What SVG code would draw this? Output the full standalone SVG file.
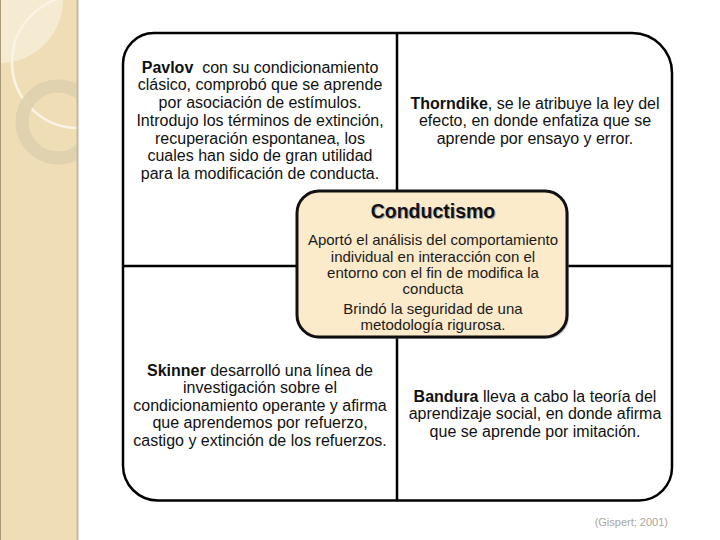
<svg xmlns="http://www.w3.org/2000/svg" width="720" height="540" viewBox="0 0 720 540">
<defs>
<style>
.t{font-family:"Liberation Sans",Arial,sans-serif;font-size:16px;fill:#111;text-anchor:middle;white-space:pre}
.c{font-family:"Liberation Sans",Arial,sans-serif;font-size:15px;fill:#1a1a1a;text-anchor:middle}
.b{font-weight:bold}
.frame{fill:none;stroke:#000;stroke-width:2.5}
.conn{stroke:#000;stroke-width:2.5;fill:none}
</style>
<clipPath id="strip"><rect x="0" y="0" width="78" height="540"/></clipPath>
</defs>
<rect width="720" height="540" fill="#fff"/>
<g id="decoration">
<rect x="0" y="0" width="78" height="540" fill="#EFDDB6"/>
<g clip-path="url(#strip)">
<circle cx="0" cy="0" r="63" fill="#F5EAD2"/>
<circle cx="78" cy="62" r="66" fill="none" stroke="#FBF4E4" stroke-width="2.5"/>
<circle cx="58" cy="122" r="36" fill="none" stroke="#DDCFAE" stroke-width="13" opacity="0.85"/>
</g>
<rect x="76.5" y="0" width="2" height="540" fill="#C9B896"/>
<rect x="0" y="0" width="1" height="540" fill="#A89878"/>
</g>
<g id="connectors">
<line class="conn" x1="397" y1="33" x2="397" y2="195"/>
<line class="conn" x1="397" y1="335" x2="397" y2="501"/>
<line class="conn" x1="123" y1="266" x2="300" y2="266"/>
<line class="conn" x1="565" y1="266" x2="672" y2="266"/>
</g>
<g id="frame">
<path class="frame" d="M154,33 H632 A40,40 0 0 1 672,73 V467 A33,33 0 0 1 639,500.5 H158 A35,35 0 0 1 123,465.5 V64 A31,31 0 0 1 154,33 Z"/>
</g>
<g id="pavlov">
<text class="t" x="260" y="72.5"><tspan class="b">Pavlov</tspan>  con su condicionamiento</text>
<text class="t" x="260" y="90.3">clásico, comprobó que se aprende</text>
<text class="t" x="260" y="108">por asociación de estímulos.</text>
<text class="t" x="260" y="125.8">Introdujo los términos de extinción,</text>
<text class="t" x="260" y="143.5">recuperación espontanea, los</text>
<text class="t" x="260" y="161.3">cuales han sido de gran utilidad</text>
<text class="t" x="260" y="179">para la modificación de conducta.</text>
</g>
<g id="thorndike">
<text class="t" x="535" y="108.5"><tspan class="b">Thorndike</tspan>, se le atribuye la ley del</text>
<text class="t" x="535" y="126">efecto, en donde enfatiza que se</text>
<text class="t" x="535" y="143.5">aprende por ensayo y error.</text>
</g>
<g id="skinner">
<text class="t" x="260" y="375.5"><tspan class="b">Skinner</tspan> desarrolló una línea de</text>
<text class="t" x="260" y="393">investigación sobre el</text>
<text class="t" x="260" y="410.5">condicionamiento operante y afirma</text>
<text class="t" x="260" y="428">que aprendemos por refuerzo,</text>
<text class="t" x="260" y="445.5">castigo y extinción de los refuerzos.</text>
</g>
<g id="bandura">
<text class="t" x="535" y="401.5"><tspan class="b">Bandura</tspan> lleva a cabo la teoría del</text>
<text class="t" x="535" y="419">aprendizaje social, en donde afirma</text>
<text class="t" x="535" y="436.5">que se aprende por imitación.</text>
</g>
<g id="conductismo">
<rect x="299" y="193" width="270" height="146" rx="22" fill="#9a9a9a" opacity="0.5"/>
<rect x="297" y="191" width="270" height="146" rx="22" fill="#FCEBCA" stroke="#111" stroke-width="3"/>
<text x="434" y="219" font-family="Liberation Sans,Arial,sans-serif" font-size="19.5" font-weight="bold" fill="#aaa" text-anchor="middle">Conductismo</text>
<text x="433" y="218" font-family="Liberation Sans,Arial,sans-serif" font-size="19.5" font-weight="bold" fill="#111" text-anchor="middle">Conductismo</text>
<text class="c" x="433" y="245">Aportó el análisis del comportamiento</text>
<text class="c" x="433" y="261.5">individual en interacción con el</text>
<text class="c" x="433" y="278">entorno con el fin de modifica la</text>
<text class="c" x="433" y="294">conducta</text>
<text class="c" x="433" y="314">Brindó la seguridad de una</text>
<text class="c" x="433" y="330">metodología rigurosa.</text>
</g>
<text id="cita" x="668" y="526" font-family="Liberation Sans,Arial,sans-serif" font-size="11" fill="#A9A69E" text-anchor="end">(Gispert; 2001)</text>
</svg>
